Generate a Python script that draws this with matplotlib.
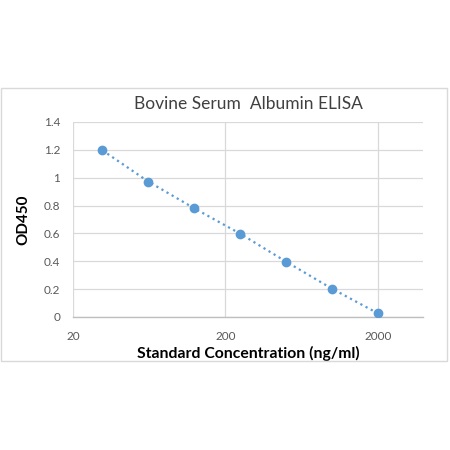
import matplotlib
matplotlib.use("Agg")
import matplotlib.pyplot as plt
from matplotlib.patches import Rectangle
from matplotlib.ticker import FixedLocator, FixedFormatter, NullLocator

conc = [31.25, 62.5, 125, 250, 500, 1000, 2000]
od450 = [1.196, 0.972, 0.780, 0.598, 0.397, 0.203, 0.026]
xticks = [20, 200, 2000]
xticklabels = ["20", "200", "2000"]
yticks = [0, 0.2, 0.4, 0.6, 0.8, 1.0, 1.2, 1.4]
yticklabels = ["0", "0.2", "0.4", "0.6", "0.8", "1", "1.2", "1.4"]

plt.rcParams['font.family'] = ['Lato', 'DejaVu Sans']

fig = plt.figure(figsize=(4.5, 4.5), dpi=100)
fig.patches.append(Rectangle((0.003, 0.198), 0.99, 0.607, transform=fig.transFigure,
                             fill=False, edgecolor='#d9d9d9', linewidth=1.0))

ax = fig.add_axes([0.162, 0.2956, 0.778, 0.4334])
ax.set_xscale('log')
ax.set_xlim(20, 3950)
ax.set_ylim(0, 1.4)

ax.plot(conc, od450, linestyle=':', color='#5B9BD5', linewidth=1.6, zorder=3)
ax.plot(conc, od450, linestyle='none', marker='o', markersize=6,
        color='#5B9BD5', zorder=4)

ax.xaxis.set_major_locator(FixedLocator(xticks))
ax.xaxis.set_major_formatter(FixedFormatter(xticklabels))
ax.xaxis.set_minor_locator(NullLocator())
ax.set_yticks(yticks)
ax.set_yticklabels(yticklabels)

ax.grid(True, color='#d9d9d9', linewidth=0.9)
ax.set_axisbelow(True)
for s in ['top', 'right', 'left']:
    ax.spines[s].set_visible(False)
ax.spines['bottom'].set_color('#bfbfbf')
ax.spines['bottom'].set_linewidth(1.0)

ax.tick_params(axis='both', length=0, labelsize=8.5, labelcolor='#595959')
ax.tick_params(axis='x', pad=10)
ax.tick_params(axis='y', pad=9)

ax.set_title('Bovine Serum  Albumin ELISA', fontsize=12.5, color='#404040', pad=9)
ax.set_xlabel('Standard Concentration (ng/ml)', fontsize=11.3, fontweight='bold',
              color='black', labelpad=3)
ax.set_ylabel('OD450', fontsize=11, fontweight='bold', color='black', labelpad=10)

fig.savefig('out.png', dpi=100)
